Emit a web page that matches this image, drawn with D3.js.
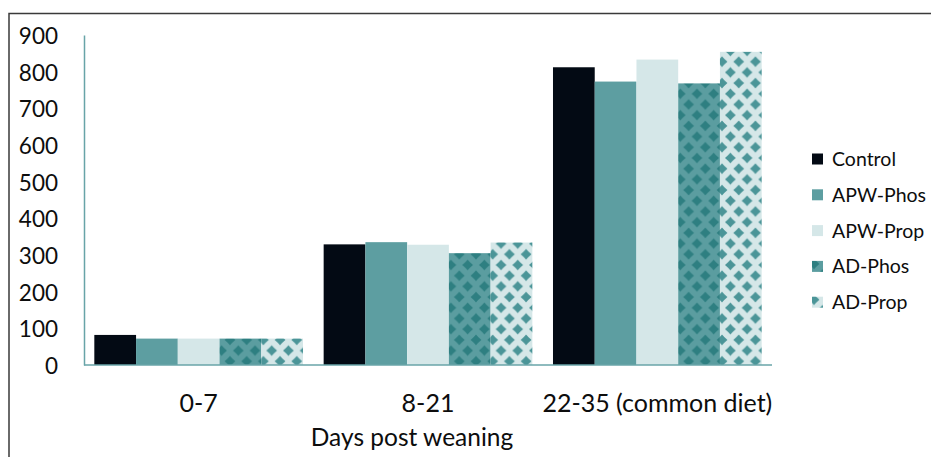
<!DOCTYPE html>
<html>
<head>
<meta charset="utf-8">
<script src="https://cdn.jsdelivr.net/npm/d3@7"></script>
<style>
  html, body { margin: 0; padding: 0; background: #fff; }
  svg { display: block; }
  text { font-family: Lato, "Open Sans", sans-serif; fill: #0d0d0d; }
</style>
</head>
<body>
<svg id="chart" width="931" height="457"></svg>
<script>
// Periods (x categories)
const periods = ["0-7", "8-21", "22-35 (common diet)"];
// Treatment groups
const groups = ["Control", "APW-Phos", "APW-Prop", "AD-Phos", "AD-Prop"];
// Values per treatment, one entry per period
const control = [82, 329, 812];
const apwPhos = [72, 335, 773];
const apwProp = [72, 328, 833];
const adPhos  = [72, 305, 768];
const adProp  = [72, 334, 854];
// Y axis ticks
const yTicks = [0, 100, 200, 300, 400, 500, 600, 700, 800, 900];
const xTitle = "Days post weaning";

const seriesValues = [control, apwPhos, apwProp, adPhos, adProp];

const svg = d3.select("#chart");
const defs = svg.append("defs");

// Diamond fill patterns for the AD groups (offset rows of rounded diamonds)
function diamondPattern(id, bg, fg) {
  const w = 16.7, h = 21.4, r = 5.4;
  const p = defs.append("pattern")
    .attr("id", id)
    .attr("patternUnits", "userSpaceOnUse")
    .attr("x", 2.05).attr("y", 8.2)
    .attr("width", w).attr("height", h);
  p.append("rect").attr("width", w).attr("height", h).attr("fill", bg);
  const centers = [[w / 2, 0], [w / 2, h], [0, h / 2], [w, h / 2]];
  const k = 0.45; // slight inward curve on the diamond sides
  centers.forEach(([cx, cy]) => {
    const path = d3.path();
    path.moveTo(cx, cy - r);
    path.quadraticCurveTo(cx + r * k, cy - r * k, cx + r, cy);
    path.quadraticCurveTo(cx + r * k, cy + r * k, cx, cy + r);
    path.quadraticCurveTo(cx - r * k, cy + r * k, cx - r, cy);
    path.quadraticCurveTo(cx - r * k, cy - r * k, cx, cy - r);
    path.closePath();
    p.append("path").attr("d", path.toString()).attr("fill", fg);
  });
}
diamondPattern("pat-adphos", "#5b9da0", "#2e7f81");
diamondPattern("pat-adprop", "#d5e7e8", "#4b9598");

const fills = ["#030a14", "#5d9ea1", "#d5e7e8", "url(#pat-adphos)", "url(#pat-adprop)"];

// Outer frame
svg.append("rect")
  .attr("x", 9).attr("y", 13.5)
  .attr("width", 960).attr("height", 480)
  .attr("fill", "none")
  .attr("stroke", "#3a3a3a")
  .attr("stroke-width", 1.5);

const plotLeft = 84, plotRight = 772, plotTop = 35, plotBottom = 365;

const x = d3.scaleBand()
  .domain(periods)
  .range([plotLeft, plotRight])
  .paddingInner(0.09)
  .paddingOuter(0.045);

const xInner = d3.scaleBand()
  .domain(groups)
  .range([0, x.bandwidth()]);

const y = d3.scaleLinear()
  .domain([0, 900])
  .range([plotBottom, plotTop]);

// Bars
const gBars = svg.append("g");
periods.forEach((period, pi) => {
  const g = gBars.append("g").attr("transform", `translate(${x(period)},0)`);
  g.selectAll("rect")
    .data(groups.map((name, gi) => ({ name, gi, value: seriesValues[gi][pi] })))
    .join("rect")
    .attr("x", d => xInner(d.name))
    .attr("width", xInner.bandwidth())
    .attr("y", d => y(d.value))
    .attr("height", d => y(0) - y(d.value))
    .attr("fill", d => fills[d.gi]);
});

// Axes
const axisColor = "#68a4a8";
const yAxis = svg.append("g")
  .attr("transform", `translate(${plotLeft},0)`)
  .call(d3.axisLeft(y).tickValues(yTicks).tickSize(0).tickPadding(26));
yAxis.select(".domain").attr("stroke", axisColor).attr("stroke-width", 1.5);
yAxis.selectAll("text")
  .attr("font-size", 22.5)
  .attr("font-family", "Lato, sans-serif")
  .attr("fill", "#0d0d0d")
  .attr("dy", "0.38em");

const xAxis = svg.append("g")
  .attr("transform", `translate(0,${plotBottom})`)
  .call(d3.axisBottom(x).tickSize(0).tickPadding(29));
xAxis.select(".domain")
  .attr("d", `M${plotLeft},0H${plotRight}`)
  .attr("stroke", axisColor).attr("stroke-width", 1.5);
xAxis.selectAll("text")
  .attr("font-size", 25)
  .attr("font-family", "Lato, sans-serif")
  .attr("fill", "#0d0d0d")
  .attr("dy", "0.71em");

// X axis title
svg.append("text")
  .attr("x", 412).attr("y", 446)
  .attr("text-anchor", "middle")
  .attr("font-size", 24.5)
  .text(xTitle);

// Legend
const legend = svg.append("g").attr("transform", "translate(812,159)");
const row = legend.selectAll("g")
  .data(groups)
  .join("g")
  .attr("transform", (d, i) => `translate(0,${i * 35.8})`);
row.append("rect")
  .attr("x", 0).attr("y", -5.5)
  .attr("width", 11).attr("height", 11)
  .attr("fill", (d, i) => fills[i]);
row.append("text")
  .attr("x", 20).attr("y", 0)
  .attr("dy", "0.36em")
  .attr("font-size", 19.5)
  .text(d => d);
</script>
</body>
</html>
